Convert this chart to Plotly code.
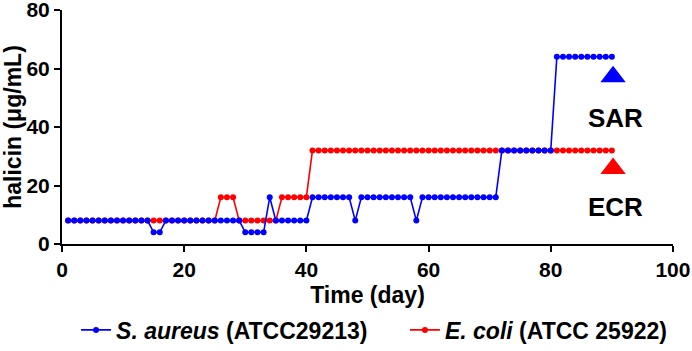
import plotly.graph_objects as go

# ---- data ----
days = list(range(1, 91))

# S. aureus (ATCC29213) halicin concentration (µg/mL) per day
sa_levels = ([8] * 14 + [4] * 2 + [8] * 13 + [4] * 4 + [16] + [8] * 6 +
             [16] * 7 + [8] + [16] * 9 + [8] + [16] * 13 + [32] * 9 + [64] * 10)
# E. coli (ATCC 25922)
ec_levels = ([8] * 25 + [16] * 3 + [8] * 7 + [16] * 5 + [32] * 50)

sa_name = "<b><i>S. aureus</i> (ATCC29213)</b>"
ec_name = "<b><i>E. coli</i> (ATCC 25922)</b>"

marker_days = [90.2, 90.2]
marker_levels = [57.2, 25.8]
label_texts = ["SAR", "ECR"]
label_levels = [43, 12.6]

x_ticks = [0, 20, 40, 60, 80, 100]
y_ticks = [0, 20, 40, 60, 80]

BLUE = "#0000ff"
RED = "#ff0000"
FONT = "Liberation Sans, Arial, sans-serif"

fig = go.Figure()
fig.add_trace(go.Scatter(
    x=days, y=ec_levels, mode="lines+markers", name=ec_name, legend="legend2",
    line=dict(color=RED, width=1.6),
    marker=dict(color=RED, size=6, symbol="circle"),
))
fig.add_trace(go.Scatter(
    x=days, y=sa_levels, mode="lines+markers", name=sa_name, legend="legend",
    line=dict(color=BLUE, width=1.6),
    marker=dict(color=BLUE, size=6, symbol="circle"),
))
fig.add_trace(go.Scatter(
    x=marker_days, y=marker_levels, mode="markers", showlegend=False,
    marker=dict(color=[BLUE, RED], size=22, symbol="triangle-up"),
    hoverinfo="skip",
))

for t, yv in zip(label_texts, label_levels):
    fig.add_annotation(x=90.6, y=yv, text="<b>" + t + "</b>", showarrow=False,
                       font=dict(family=FONT, size=26, color="black"),
                       xanchor="center", yanchor="middle")

axis_common = dict(
    showline=True, linecolor="black", linewidth=2,
    ticks="outside", ticklen=6, tickwidth=2, tickcolor="black",
    showgrid=False, zeroline=False, automargin=False,
    ticklabeloverflow="allow",
    tickfont=dict(family=FONT, size=21, color="black"),
)

fig.update_xaxes(range=[0, 100.01], tickvals=x_ticks,
                 ticktext=["<b>%d</b>" % v for v in x_ticks],
                 title=dict(text="<b>Time (day)</b>", standoff=10,
                            font=dict(family=FONT, size=23, color="black")),
                 **axis_common)
fig.update_yaxes(range=[0, 80.01], tickvals=y_ticks,
                 ticktext=["<b>%d</b>" % v for v in y_ticks],
                 title=dict(text="<b>halicin (μg/mL)</b>", standoff=6,
                            font=dict(family=FONT, size=23, color="black")),
                 **axis_common)

legend_common = dict(orientation="h", xanchor="left", yref="container",
                     y=0.06, yanchor="middle",
                     font=dict(family=FONT, size=23, color="black"),
                     itemwidth=30, bgcolor="rgba(0,0,0,0)")

fig.update_layout(
    width=692, height=351,
    margin=dict(l=62, r=19, t=10, b=107),
    plot_bgcolor="white", paper_bgcolor="white",
    font=dict(family=FONT, color="black"),
    showlegend=True,
    legend=dict(x=0.0230, **legend_common),
    legend2=dict(x=0.5613, **legend_common),
)

fig.write_html("out.html", config={"displayModeBar": False},
               post_script="document.body.style.margin='0';document.body.style.overflow='hidden';")
